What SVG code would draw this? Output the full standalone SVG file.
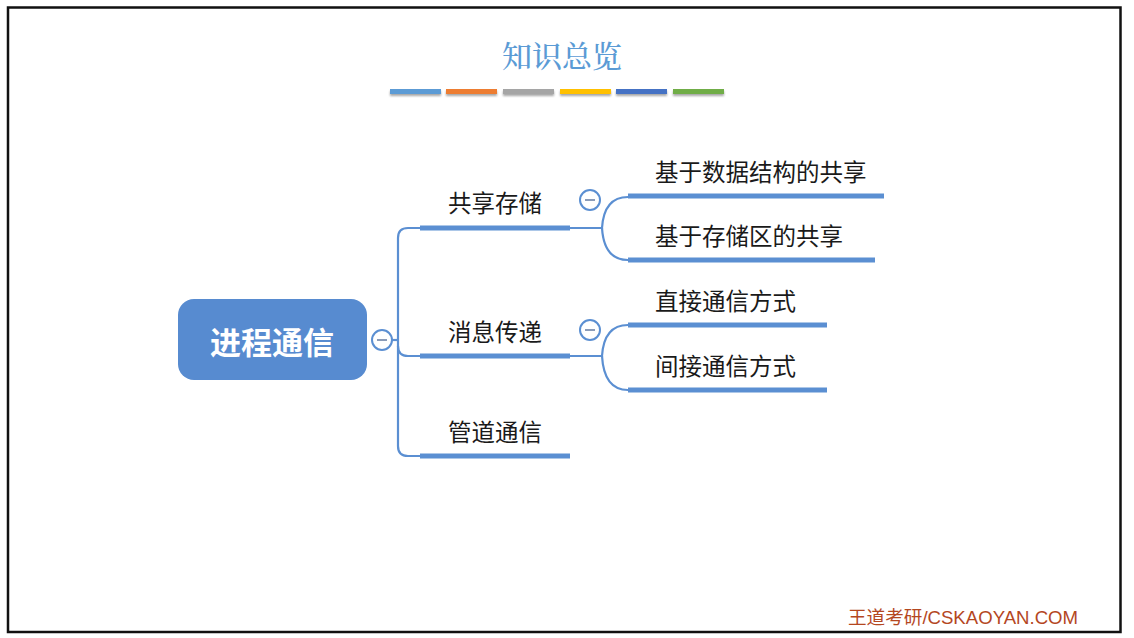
<svg xmlns="http://www.w3.org/2000/svg" width="1134" height="638" viewBox="0 0 1134 638">
<defs>
<style>
.ln{fill:none;stroke:#5B8FD2;stroke-width:2.2}
.ul{stroke:#5B8FD2;stroke-width:5}
.lbl{font-family:"Noto Sans CJK SC","Liberation Sans",sans-serif;font-size:23.5px;fill:#1a1a1a}
.tg{fill:#fff;stroke:#5B8FD2;stroke-width:2}
.mn{stroke:#8a9bb8;stroke-width:2}
</style>
<filter id="sh" x="-10%" y="-50%" width="120%" height="300%"><feDropShadow dx="0" dy="2" stdDeviation="1.2" flood-color="#000" flood-opacity="0.35"/></filter>
</defs>
<rect width="1134" height="638" fill="#fff"/>
<rect x="8" y="7.5" width="1112.5" height="624.5" fill="none" stroke="#111" stroke-width="2.5"/>
<g id="title">
<text x="562" y="67" text-anchor="middle" font-family="Noto Serif CJK SC,Noto Sans CJK SC,serif" font-size="30" font-weight="500" fill="#5B9BD5">知识总览</text>
<g filter="url(#sh)">
<rect x="390" y="89" width="51" height="5" fill="#5B9BD5"/>
<rect x="446" y="89" width="51" height="5" fill="#ED7D31"/>
<rect x="503" y="89" width="51" height="5" fill="#A5A5A5"/>
<rect x="560" y="89" width="51" height="5" fill="#FFC000"/>
<rect x="616" y="89" width="51" height="5" fill="#4472C4"/>
<rect x="673" y="89" width="51" height="5" fill="#70AD47"/>
</g>
</g>
<g id="connectors">
<path class="ln" d="M392 340 H398"/>
<path class="ln" d="M420 228 H408 Q398 228 398 238 V446 Q398 456 408 456 H420"/>
<path class="ln" d="M398 346 Q398 356 408 356 H420"/>
<path class="ln" d="M570 228 H602 Q604 197 628 197"/>
<path class="ln" d="M602 228 Q604 260 628 260"/>
<path class="ln" d="M570 356 H602 Q604 325 628 325"/>
<path class="ln" d="M602 356 Q604 390 628 390"/>
</g>
<g id="root">
<rect x="178" y="299" width="189" height="81" rx="16" fill="#578BD0"/>
<text x="272" y="354" text-anchor="middle" font-family="Noto Sans CJK SC,sans-serif" font-weight="bold" font-size="31" fill="#fff">进程通信</text>
<circle class="tg" cx="382" cy="340" r="10"/>
<line class="mn" x1="377" y1="340" x2="387" y2="340"/>
</g>
<g id="n-shared">
<text class="lbl" x="495" y="212" text-anchor="middle">共享存储</text>
<line class="ul" x1="420" y1="228" x2="570" y2="228"/>
<circle class="tg" cx="590" cy="200" r="10"/>
<line class="mn" x1="585" y1="200" x2="595" y2="200"/>
</g>
<g id="n-msg">
<text class="lbl" x="495" y="341" text-anchor="middle">消息传递</text>
<line class="ul" x1="420" y1="356" x2="570" y2="356"/>
<circle class="tg" cx="590" cy="330" r="10"/>
<line class="mn" x1="585" y1="330" x2="595" y2="330"/>
</g>
<g id="n-pipe">
<text class="lbl" x="495" y="441" text-anchor="middle">管道通信</text>
<line class="ul" x1="420" y1="456" x2="570" y2="456"/>
</g>
<g id="n-ds">
<text class="lbl" x="655" y="181">基于数据结构的共享</text>
<line class="ul" x1="628" y1="196" x2="884" y2="196"/>
</g>
<g id="n-area">
<text class="lbl" x="655" y="245">基于存储区的共享</text>
<line class="ul" x1="628" y1="260" x2="875" y2="260"/>
</g>
<g id="n-direct">
<text class="lbl" x="655" y="310">直接通信方式</text>
<line class="ul" x1="628" y1="325" x2="827" y2="325"/>
</g>
<g id="n-indirect">
<text class="lbl" x="655" y="375">间接通信方式</text>
<line class="ul" x1="628" y1="390" x2="827" y2="390"/>
</g>
<text x="848" y="624" font-family="Liberation Sans,Noto Sans CJK SC,sans-serif" font-size="18.6" fill="#B4471F">王道考研/CSKAOYAN.COM</text>
</svg>
